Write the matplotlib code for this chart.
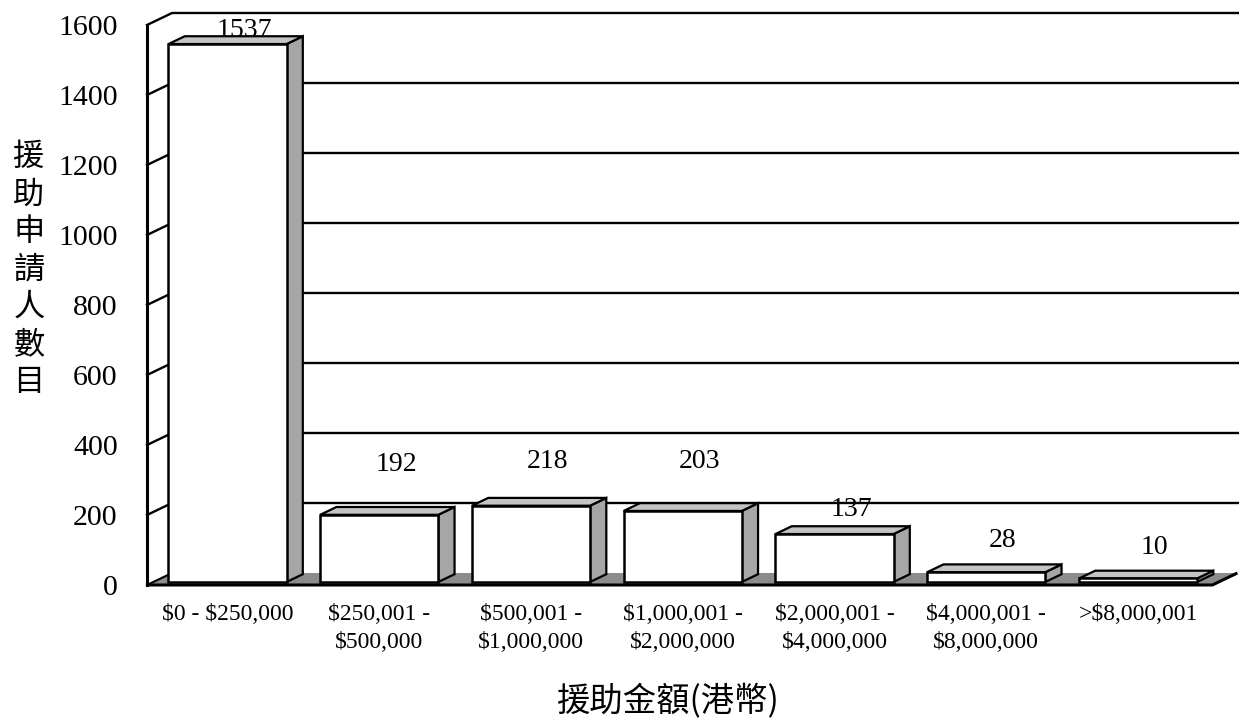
import matplotlib.pyplot as plt
from matplotlib.patches import Polygon

plt.rcParams['text.parse_math'] = False

# data
categories = ['$0 - $250,000', '$250,001 -\n$500,000', '$500,001 -\n$1,000,000',
              '$1,000,001 -\n$2,000,000', '$2,000,001 -\n$4,000,000',
              '$4,000,001 -\n$8,000,000', '>$8,000,001']
counts = [1537, 192, 218, 203, 137, 28, 10]
yticks = [0, 200, 400, 600, 800, 1000, 1200, 1400, 1600]
ylabel = '援助申請人數目'
xlabel = '援助金額(港幣)'

# layout of the fake 3d box (data units)
label_y = [1585, 345, 352, 352, 215, 126, 106]
x_left, x_right = -0.5305, 6.49
ddx, ddy = 0.165, 34.3          # depth vector
f0, f1 = 0.25, 0.9              # bar front / back depth fraction
bw = 0.778                      # bar width

serif = 'Liberation Serif'
cjk = 'Noto Sans CJK TC'

fig = plt.figure(figsize=(12.39, 7.2), dpi=100)
ax = fig.add_axes([147 / 1239, 0.1875, 1091 / 1239, 560 / 720])
ax.set_xlim(x_left, 6.659)
ax.set_ylim(0, 1600)
for s in ax.spines.values():
    s.set_visible(False)
ax.patch.set_visible(False)

# floor
floor = [(x_left, 0), (x_right, 0), (x_right + ddx, ddy), (x_left + ddx, ddy)]
ax.add_patch(Polygon(floor, closed=True, facecolor='#8c8c8c', edgecolor='none',
                     zorder=1, clip_on=False))
ax.plot([x_left, x_right, x_right + ddx], [0, 0, ddy], color='black', lw=2.2,
        zorder=6, clip_on=False, solid_capstyle='butt')
ax.plot([x_left, x_left + ddx], [0, ddy], color='black', lw=1.5, zorder=2, clip_on=False)

# gridlines on the back wall and the side wall
for t in yticks[1:]:
    ax.plot([x_left, x_left + ddx, 6.659], [t, t + ddy, t + ddy], color='black',
            lw=1.7, zorder=2, clip_on=False)
# front left edge of the side wall
ax.plot([x_left, x_left], [0, 1600], color='black', lw=2.2, zorder=2, clip_on=False)

# bars
for i, v in enumerate(counts):
    x0 = i - bw / 2
    x1 = i + bw / 2
    y0 = f0 * ddy
    dx = (f1 - f0) * ddx
    dy = (f1 - f0) * ddy
    front = [(x0, y0), (x1, y0), (x1, y0 + v), (x0, y0 + v)]
    side = [(x1, y0), (x1 + dx, y0 + dy), (x1 + dx, y0 + dy + v), (x1, y0 + v)]
    top = [(x0, y0 + v), (x1, y0 + v), (x1 + dx, y0 + v + dy), (x0 + dx, y0 + v + dy)]
    ax.add_patch(Polygon(side, closed=True, facecolor='#a6a6a6', edgecolor='black',
                         lw=1.6, zorder=3 + i * 0.01, clip_on=False, joinstyle='miter'))
    ax.add_patch(Polygon(top, closed=True, facecolor='#c4c4c4', edgecolor='black',
                         lw=1.6, zorder=3 + i * 0.01, clip_on=False, joinstyle='miter'))
    ax.add_patch(Polygon(front, closed=True, facecolor='white', edgecolor='black',
                         lw=1.8, zorder=3 + i * 0.01, clip_on=False, joinstyle='miter'))
    ax.text(i + 0.11, label_y[i], str(v), ha='center', va='center', fontsize=20,
            family=serif, zorder=7)

# ticks
ax.set_yticks(yticks)
ax.set_yticklabels([str(t) for t in yticks], fontsize=21.5, family=serif)
ax.tick_params(axis='y', length=0, pad=21)
ax.set_xticks(range(len(categories)))
ax.set_xticklabels(categories, fontsize=17, family=serif, linespacing=1.4)
ax.tick_params(axis='x', length=0, pad=14)

# axis titles
for k, ch in enumerate(ylabel):
    fig.text(29 / 1239, 1 - (157 + 37.5 * k) / 720, ch, ha='center', va='center',
             fontsize=22.5, family=cjk)
fig.text(668 / 1239, 1 - 702 / 720, xlabel, ha='center', va='center', fontsize=24,
         family=cjk)

fig.savefig('out.png', dpi=100)
